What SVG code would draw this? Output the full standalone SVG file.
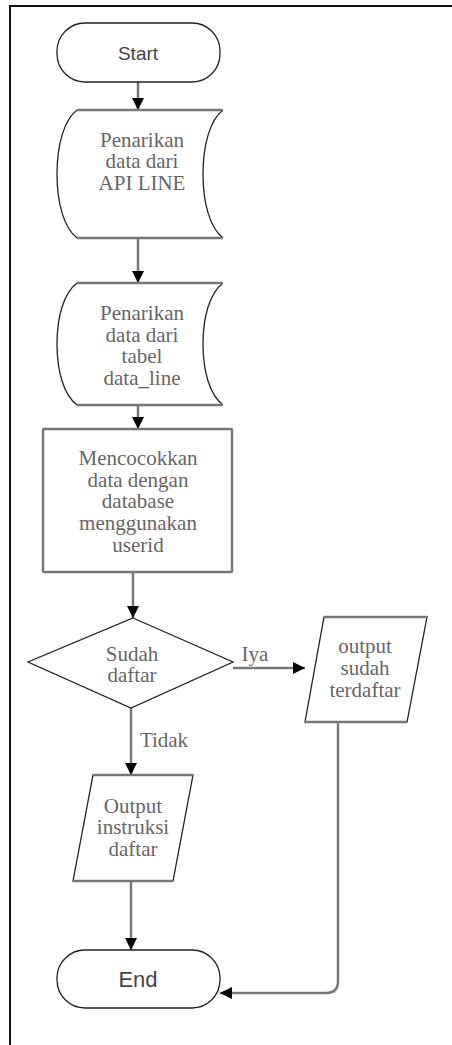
<svg xmlns="http://www.w3.org/2000/svg" width="452" height="1045" viewBox="0 0 452 1045">
<style>
.sh{fill:#fff;stroke:#222;stroke-width:1.3}
.thick{fill:none;stroke:#777;stroke-width:2.5}
.t{font-family:"Liberation Serif",serif;font-size:21px;fill:#666;text-anchor:middle}
.s{font-family:"Liberation Sans",sans-serif;fill:#444;text-anchor:middle}
.c{fill:none;stroke:#777;stroke-width:2.5}
</style>
<defs>
<marker id="ah" viewBox="0 0 12 12" refX="12" refY="6" markerWidth="12" markerHeight="12" markerUnits="userSpaceOnUse" orient="auto">
<path d="M0,0 L12,6 L0,12 Z" fill="#000"/>
</marker>
</defs>
<rect width="452" height="1045" fill="#fff"/>
<path d="M10,1045 L10,6 L452,6" fill="none" stroke="#111" stroke-width="2"/>
<g id="connectors">
<path class="c" d="M138,82 L138,110" marker-end="url(#ah)"/>
<path class="c" d="M138,238 L138,283" marker-end="url(#ah)"/>
<path class="c" d="M138,405 L138,429" marker-end="url(#ah)"/>
<path class="c" d="M133,572 L133,618" marker-end="url(#ah)"/>
<path class="c" d="M233,668 L305,668" marker-end="url(#ah)"/>
<path class="c" d="M131,708 L131,775" marker-end="url(#ah)"/>
<path class="c" d="M131,881 L131,950" marker-end="url(#ah)"/>
<path class="c" d="M338,722 L338,981 Q338,993 326,993 L220,993" marker-end="url(#ah)"/>
<text class="t" x="255" y="661">Iya</text>
<text class="t" x="164" y="747">Tidak</text>
</g>
<g id="start">
<rect class="sh" x="57" y="23" width="163" height="59" rx="28"/>
<text class="s" x="138" y="60" font-size="19">Start</text>
</g>
<g id="api">
<path d="M77,110 C64,120 57,145 57,174 C57,203 64,228 77,238 L223,238 C210,228 203,203 203,174 C203,145 210,120 223,110 Z" fill="#fff"/>
<path d="M77,110 C64,120 57,145 57,174 C57,203 64,228 77,238 M223,110 C210,120 203,145 203,174 C203,203 210,228 223,238" fill="none" stroke="#222" stroke-width="1.3"/>
<path class="thick" d="M77,110 L223,110 M77,238 L223,238"/>
<text class="t" x="142" y="147">Penarikan</text>
<text class="t" x="142" y="168">data dari</text>
<text class="t" x="142" y="190">API LINE</text>
</g>
<g id="tabel">
<path d="M77,283 C64,293 57,316 57,344 C57,372 64,395 77,405 L223,405 C210,395 203,372 203,344 C203,316 210,293 223,283 Z" fill="#fff"/>
<path d="M77,283 C64,293 57,316 57,344 C57,372 64,395 77,405 M223,283 C210,293 203,316 203,344 C203,372 210,395 223,405" fill="none" stroke="#222" stroke-width="1.3"/>
<path class="thick" d="M77,283 L223,283 M77,405 L223,405"/>
<text class="t" x="142" y="320">Penarikan</text>
<text class="t" x="142" y="342">data dari</text>
<text class="t" x="142" y="363">tabel</text>
<text class="t" x="142" y="385">data_line</text>
</g>
<g id="cocok">
<rect x="43" y="429" width="189" height="143" fill="#fff" stroke="#777" stroke-width="2.5" rx="1"/>
<text class="t" x="138" y="465">Mencocokkan</text>
<text class="t" x="138" y="487">data dengan</text>
<text class="t" x="138" y="508">database</text>
<text class="t" x="138" y="530">menggunakan</text>
<text class="t" x="138" y="552">userid</text>
</g>
<g id="sudah">
<path class="sh" d="M133,618 L233,662 L131,708 L28,662 Z"/>
<text class="t" x="132" y="661">Sudah</text>
<text class="t" x="132" y="682">daftar</text>
</g>
<g id="out1">
<path d="M324,617 L427,617 L407,722 L305,722 Z" fill="#fff" stroke="#222" stroke-width="1.3"/>
<path class="thick" d="M324,617 L427,617 M407,722 L305,722"/>
<text class="t" x="365" y="653">output</text>
<text class="t" x="365" y="675">sudah</text>
<text class="t" x="365" y="697">terdaftar</text>
</g>
<g id="out2">
<path d="M93,775 L193,775 L173,881 L73,881 Z" fill="#fff" stroke="#222" stroke-width="1.3"/>
<path class="thick" d="M93,775 L193,775 M173,881 L73,881"/>
<text class="t" x="133" y="813">Output</text>
<text class="t" x="133" y="834">instruksi</text>
<text class="t" x="133" y="856">daftar</text>
</g>
<g id="end">
<rect class="sh" x="57" y="950" width="163" height="58" rx="28"/>
<text class="s" x="138" y="987" font-size="22">End</text>
</g>
</svg>
